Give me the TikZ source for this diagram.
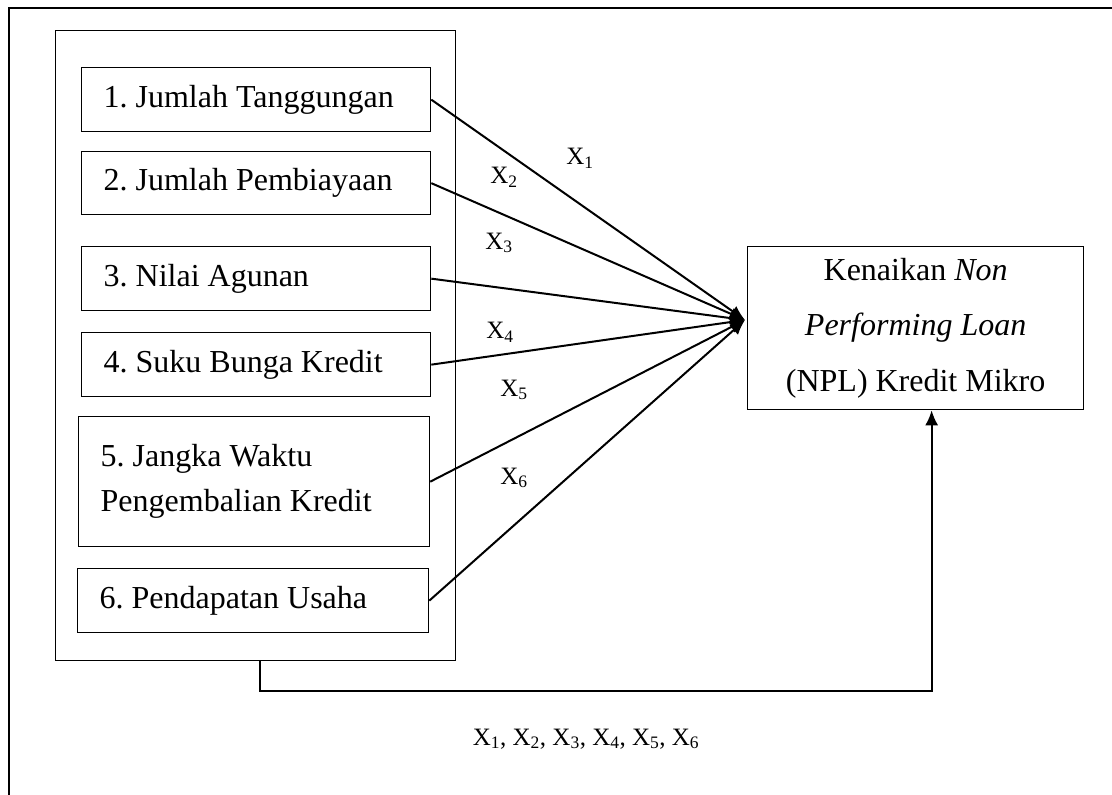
\documentclass[tikz,border=0pt]{standalone}
\usepackage{fontspec}
\setmainfont{Liberation Serif}
\usetikzlibrary{arrows.meta}
\begin{document}
\begin{tikzpicture}[x=1pt,y=-1pt,
  box/.style={draw, line width=1.3pt, anchor=north west, align=left, inner xsep=22pt, inner ysep=0pt, font=\fontsize{32}{45}\selectfont, execute at begin node={\frenchspacing\spaceskip=0pt\xspaceskip=0pt}},
  frame/.style={draw, line width=1.3pt, anchor=north west, inner sep=0pt},
  lbl/.style={font=\fontsize{25}{30}\selectfont, inner sep=0pt},
  conn/.style={line width=2pt, -{Latex[length=15pt,width=13pt]}}]
\useasboundingbox (0,0) rectangle (1112,795);
% outer frame (cut at bottom and right)
\draw[line width=2pt] (9,795) -- (9,8) -- (1112,8);
% group box
\node[frame, minimum width=400pt, minimum height=630pt] (group) at (55,30) {};
% factor boxes
\node[box, text width=305pt, minimum height=64pt] (b1) at (81,67) {1. Jumlah Tanggungan};
\node[box, text width=305pt, minimum height=63pt] (b2) at (81,151) {2. Jumlah Pembiayaan};
\node[box, text width=305pt, minimum height=64pt] (b3) at (81,246) {3. Nilai Agunan};
\node[box, text width=305pt, minimum height=64pt] (b4) at (81,332) {4. Suku Bunga Kredit};
\node[box, text width=307pt, minimum height=130pt] (b5) at (78,416) {5. Jangka Waktu\\Pengembalian Kredit};
\node[box, text width=307pt, minimum height=64pt] (b6) at (77,568) {6. Pendapatan Usaha};
% target box
\node[frame, minimum width=336pt, minimum height=163pt, align=center, font=\fontsize{32}{55.5}\selectfont] (npl) at (747,246) {Kenaikan \textit{Non}\\\textit{Performing Loan}\\(NPL) Kredit Mikro};
\coordinate (tip) at (745,320);
% connectors
\draw[conn] (b1.east) -- (tip);
\draw[conn] (b2.east) -- (tip);
\draw[conn] (b3.east) -- (tip);
\draw[conn] (b4.east) -- (tip);
\draw[conn] (b5.east) -- (tip);
\draw[conn] (b6.east) -- (tip);
\draw[conn] ([xshift=4pt]group.south) -- ++(0,30) -| ([xshift=16pt]npl.south);
% labels
\node[lbl] (l1) at (580,158) {X\textsubscript{1}};
\node[lbl] (l2) at (504,177) {X\textsubscript{2}};
\node[lbl] (l3) at (499,243) {X\textsubscript{3}};
\node[lbl] (l4) at (500,332) {X\textsubscript{4}};
\node[lbl] (l5) at (514,390) {X\textsubscript{5}};
\node[lbl] (l6) at (514,478) {X\textsubscript{6}};
\node[lbl] (lall) at (586,739) {X\textsubscript{1}, X\textsubscript{2}, X\textsubscript{3}, X\textsubscript{4}, X\textsubscript{5}, X\textsubscript{6}};
\end{tikzpicture}
\end{document}
